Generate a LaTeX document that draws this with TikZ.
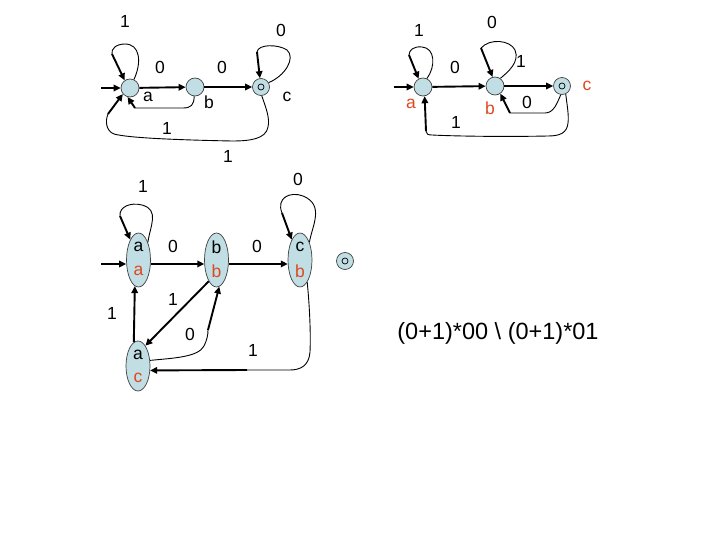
\documentclass[tikz,border=0pt]{standalone}
\usepackage{fontspec}
\setmainfont{Liberation Sans}
\usetikzlibrary{arrows.meta,shapes.geometric}
\definecolor{stfill}{RGB}{192,222,227}
\definecolor{lblred}{RGB}{222,72,32}
\begin{document}
\begin{tikzpicture}[x=1pt,y=-1pt,
  st/.style={circle,draw=black!75,line width=0.7pt,fill=stfill,minimum size=18pt,inner sep=0pt},
  fin/.style={st,minimum size=17pt,path picture={\draw[black,line width=0.7pt] (path picture bounding box.center) circle (3pt);}},
  est/.style={ellipse,draw=black!75,line width=0.7pt,fill=stfill,minimum width=24pt,minimum height=54pt,inner sep=0pt},
  lbl/.style={font=\fontsize{17.5}{20}\selectfont,inner sep=0pt},
  rlbl/.style={lbl,text=lblred},
  tr/.style={line width=1.9pt,-{Triangle[length=7pt,width=6.5pt]}},
  cv/.style={line width=0.9pt},
]
\path[use as bounding box] (0,0) rectangle (720,540);

% ---------------- top-left automaton ----------------
\node[st] (la) at (130,88) {};
\node[st] (lb) at (195,87) {};
\node[fin] (lc) at (261,87) {};
\coordinate (lin) at (101,88);
\draw[tr] (lin) -- (la);
\draw[tr] (la) -- (lb);
\draw[tr] (lb) -- (lc);
\coordinate (la1) at (112,54);
\draw[cv] (la.65) .. controls (142,62) and (140,44) .. (125,44) .. controls (116,44) and (111,49) .. (la1);
\draw[tr] (la1) -- (la.125);
\coordinate (lc1) at (257,52);
\draw[cv] (lc.30) .. controls (285,76) and (296,58) .. (287,50) .. controls (278,44) and (258,44) .. (lc1);
\draw[tr] (lc1) -- (lc.97);
\coordinate (lba) at (135,108);
\draw[cv] (lb.265) .. controls (194,105) and (191,108) .. (183,108) -- (lba);
\draw[tr] (lba) -- (la.255);
\coordinate (lca) at (108,114);
\draw[cv] (lc.275) .. controls (266,108) and (270,118) .. (268,127) .. controls (266,139) and (250,141) .. (232,141) .. controls (180,140) and (128,138) .. (114,134) .. controls (106,131) and (105,121) .. (lca);
\draw[tr] (lca) -- (la.220);
\node[lbl] (l1) at (125,21) {1};
\node[lbl] (l2) at (160,67) {0};
\node[lbl] (l3) at (222,67) {0};
\node[lbl] (l4) at (281,30) {0};
\node[lbl] (l5) at (148,97) {a};
\node[lbl] (l6) at (209,102) {b};
\node[lbl] (l7) at (287,97) {c};
\node[lbl] (l8) at (167,128) {1};
\node[lbl] (l9) at (228,156) {1};

% ---------------- top-right automaton ----------------
\node[st] (ra) at (423,87) {};
\node[st] (rb) at (495,86) {};
\node[fin] (rc) at (562,86) {};
\coordinate (rin) at (394,87);
\draw[tr] (rin) -- (ra);
\draw[tr] (ra) -- (rb);
\draw[tr] (rb) -- (rc);
\coordinate (ra1) at (409,55);
\draw[cv] (ra.65) .. controls (436,66) and (435,48) .. (422,47) .. controls (414,46) and (409,50) .. (ra1);
\draw[tr] (ra1) -- (ra.118);
\coordinate (rb1) at (481,48);
\draw[cv] (rb.55) .. controls (508,72) and (520,62) .. (515,50) .. controls (510,40) and (490,38) .. (rb1);
\draw[tr] (rb1) -- (rb.105);
\coordinate (rcb) at (510,113);
\draw[cv] (rc.262) .. controls (557,103) and (554,113) .. (545,113) -- (rcb);
\draw[tr] (rcb) -- (rb.305);
\coordinate (rca) at (426,131);
\draw[cv] (rc.295) .. controls (567,105) and (569,115) .. (568,123) .. controls (567,133) and (560,136) .. (548,136) .. controls (500,137) and (450,136) .. (432,135) .. controls (428,135) and (426,134) .. (rca);
\draw[tr] (rca) -- (ra.280);
\node[lbl] (r1) at (419,30) {1};
\node[lbl] (r2) at (492,22) {0};
\node[lbl] (r3) at (455,67) {0};
\node[lbl] (r4) at (521,61) {1};
\node[rlbl] (r5) at (411,104) {a};
\node[rlbl] (r6) at (490,108) {b};
\node[lbl] (r7) at (527,102) {0};
\node[rlbl] (r8) at (587,86) {c};
\node[lbl] (r9) at (456,122) {1};

% ---------------- bottom automaton ----------------
\node[est] (aa) at (138.5,260) {};
\node[est] (bb) at (216.5,260) {};
\node[est] (cb) at (300,260) {};
\node[est,minimum height=50pt] (ac) at (138,366) {};
\node[fin] (bf) at (345,261) {};
\node[lbl] (t1) at (138.5,247) {a};
\node[rlbl] (t2) at (138.5,271) {a};
\node[lbl] (t3) at (216.5,247) {b};
\node[rlbl] (t4) at (216.5,271) {b};
\node[lbl] (t5) at (300,247) {c};
\node[rlbl] (t6) at (300,271) {b};
\node[lbl] (t7) at (138,355) {a};
\node[rlbl] (t8) at (138,378) {c};
\coordinate (bin) at (101,264);
\draw[tr] (bin) -- (bin -| aa.west);
\draw[tr] (aa.-18) -- (bb.198);
\draw[tr] (bb.-18) -- (cb.198);
\coordinate (ba1) at (120,216);
\draw[cv] (aa.62) .. controls (150,226) and (160,210) .. (142,205) .. controls (130,202) and (119,207) .. (ba1);
\draw[tr] (ba1) -- (aa.112);
\coordinate (bc1) at (282,213);
\draw[cv] (cb.62) .. controls (312,226) and (325,205) .. (303,196) .. controls (290,191) and (276,198) .. (bc1);
\draw[tr] (bc1) -- (cb.112);
\draw[tr] (ac.100) -- (aa.262);
\draw[tr] (bb.250) -- (ac.70);
\coordinate (bab) at (208,330);
\draw[cv] (ac.25) .. controls (175,358) and (198,357) .. (204,346) .. controls (207,340) and (208,335) .. (bab);
\draw[tr] (bab) -- (bb.276);
\coordinate (bca) at (247,370);
\draw[cv] (cb.288) .. controls (309,300) and (311,330) .. (310,352) .. controls (309,366) and (300,370) .. (290,370) -- (bca);
\draw[tr] (bca) -- (ac.-20);
\node[lbl] (b1) at (143,186) {1};
\node[lbl] (b2) at (298,179) {0};
\node[lbl] (b3) at (173,246) {0};
\node[lbl] (b4) at (257,246) {0};
\node[lbl] (b5) at (112,313) {1};
\node[lbl] (b6) at (173,299) {1};
\node[lbl] (b7) at (190,334) {0};
\node[lbl] (b8) at (253,350) {1};

\node[font=\fontsize{23.5}{26}\selectfont,inner sep=0pt] (expr) at (498,333) {(0+1)*00 \textbackslash{} (0+1)*01};
\end{tikzpicture}
\end{document}
